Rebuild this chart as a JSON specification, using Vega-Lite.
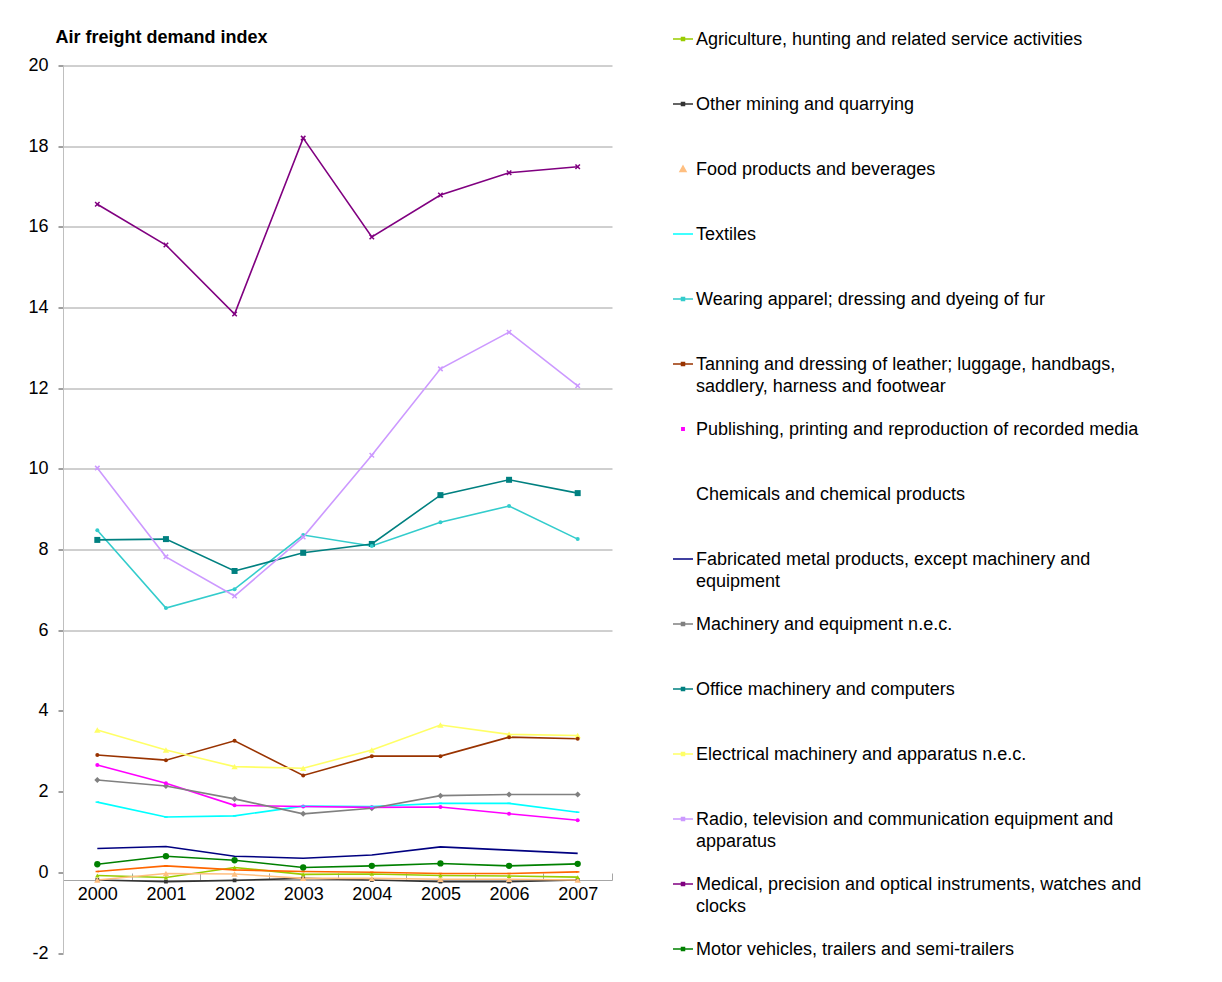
{
  "$schema": "https://vega.github.io/schema/vega-lite/v6.json",
  "width": 549,
  "height": 887.5,
  "autosize": "none",
  "padding": {"left": 63, "top": 65.5, "right": 610, "bottom": 29},
  "background": "white",
  "config": {"font": "Liberation Sans", "view": {"stroke": null}},
  "data": {"values": [
    {"series": "Agriculture, hunting and related service activities", "year": "2000", "value": -0.08},
    {"series": "Agriculture, hunting and related service activities", "year": "2001", "value": -0.13},
    {"series": "Agriculture, hunting and related service activities", "year": "2002", "value": 0.12},
    {"series": "Agriculture, hunting and related service activities", "year": "2003", "value": -0.05},
    {"series": "Agriculture, hunting and related service activities", "year": "2004", "value": -0.04},
    {"series": "Agriculture, hunting and related service activities", "year": "2005", "value": -0.08},
    {"series": "Agriculture, hunting and related service activities", "year": "2006", "value": -0.09},
    {"series": "Agriculture, hunting and related service activities", "year": "2007", "value": -0.12},
    {"series": "Other mining and quarrying", "year": "2000", "value": -0.19},
    {"series": "Other mining and quarrying", "year": "2001", "value": -0.23},
    {"series": "Other mining and quarrying", "year": "2002", "value": -0.2},
    {"series": "Other mining and quarrying", "year": "2003", "value": -0.15},
    {"series": "Other mining and quarrying", "year": "2004", "value": -0.19},
    {"series": "Other mining and quarrying", "year": "2005", "value": -0.23},
    {"series": "Other mining and quarrying", "year": "2006", "value": -0.23},
    {"series": "Other mining and quarrying", "year": "2007", "value": -0.19},
    {"series": "Food products and beverages", "year": "2000", "value": -0.19},
    {"series": "Food products and beverages", "year": "2001", "value": -0.03},
    {"series": "Food products and beverages", "year": "2002", "value": -0.04},
    {"series": "Food products and beverages", "year": "2003", "value": -0.15},
    {"series": "Food products and beverages", "year": "2004", "value": -0.15},
    {"series": "Food products and beverages", "year": "2005", "value": -0.17},
    {"series": "Food products and beverages", "year": "2006", "value": -0.17},
    {"series": "Food products and beverages", "year": "2007", "value": -0.19},
    {"series": "Textiles", "year": "2000", "value": 1.74},
    {"series": "Textiles", "year": "2001", "value": 1.37},
    {"series": "Textiles", "year": "2002", "value": 1.4},
    {"series": "Textiles", "year": "2003", "value": 1.64},
    {"series": "Textiles", "year": "2004", "value": 1.63},
    {"series": "Textiles", "year": "2005", "value": 1.71},
    {"series": "Textiles", "year": "2006", "value": 1.71},
    {"series": "Textiles", "year": "2007", "value": 1.49},
    {"series": "Wearing apparel; dressing and dyeing of fur", "year": "2000", "value": 8.48},
    {"series": "Wearing apparel; dressing and dyeing of fur", "year": "2001", "value": 6.55},
    {"series": "Wearing apparel; dressing and dyeing of fur", "year": "2002", "value": 7.02},
    {"series": "Wearing apparel; dressing and dyeing of fur", "year": "2003", "value": 8.36},
    {"series": "Wearing apparel; dressing and dyeing of fur", "year": "2004", "value": 8.09},
    {"series": "Wearing apparel; dressing and dyeing of fur", "year": "2005", "value": 8.68},
    {"series": "Wearing apparel; dressing and dyeing of fur", "year": "2006", "value": 9.08},
    {"series": "Wearing apparel; dressing and dyeing of fur", "year": "2007", "value": 8.26},
    {"series": "Tanning and dressing of leather; luggage, handbags, saddlery, harness and footwear", "year": "2000", "value": 2.91},
    {"series": "Tanning and dressing of leather; luggage, handbags, saddlery, harness and footwear", "year": "2001", "value": 2.78},
    {"series": "Tanning and dressing of leather; luggage, handbags, saddlery, harness and footwear", "year": "2002", "value": 3.26},
    {"series": "Tanning and dressing of leather; luggage, handbags, saddlery, harness and footwear", "year": "2003", "value": 2.4},
    {"series": "Tanning and dressing of leather; luggage, handbags, saddlery, harness and footwear", "year": "2004", "value": 2.88},
    {"series": "Tanning and dressing of leather; luggage, handbags, saddlery, harness and footwear", "year": "2005", "value": 2.88},
    {"series": "Tanning and dressing of leather; luggage, handbags, saddlery, harness and footwear", "year": "2006", "value": 3.35},
    {"series": "Tanning and dressing of leather; luggage, handbags, saddlery, harness and footwear", "year": "2007", "value": 3.31},
    {"series": "Publishing, printing and reproduction of recorded media", "year": "2000", "value": 2.66},
    {"series": "Publishing, printing and reproduction of recorded media", "year": "2001", "value": 2.21},
    {"series": "Publishing, printing and reproduction of recorded media", "year": "2002", "value": 1.66},
    {"series": "Publishing, printing and reproduction of recorded media", "year": "2003", "value": 1.63},
    {"series": "Publishing, printing and reproduction of recorded media", "year": "2004", "value": 1.61},
    {"series": "Publishing, printing and reproduction of recorded media", "year": "2005", "value": 1.62},
    {"series": "Publishing, printing and reproduction of recorded media", "year": "2006", "value": 1.45},
    {"series": "Publishing, printing and reproduction of recorded media", "year": "2007", "value": 1.29},
    {"series": "Chemicals and chemical products", "year": "2000", "value": 0.02},
    {"series": "Chemicals and chemical products", "year": "2001", "value": 0.16},
    {"series": "Chemicals and chemical products", "year": "2002", "value": 0.06},
    {"series": "Chemicals and chemical products", "year": "2003", "value": 0.02},
    {"series": "Chemicals and chemical products", "year": "2004", "value": 0.0},
    {"series": "Chemicals and chemical products", "year": "2005", "value": -0.03},
    {"series": "Chemicals and chemical products", "year": "2006", "value": -0.03},
    {"series": "Chemicals and chemical products", "year": "2007", "value": 0.01},
    {"series": "Fabricated metal products, except machinery and equipment", "year": "2000", "value": 0.59},
    {"series": "Fabricated metal products, except machinery and equipment", "year": "2001", "value": 0.64},
    {"series": "Fabricated metal products, except machinery and equipment", "year": "2002", "value": 0.4},
    {"series": "Fabricated metal products, except machinery and equipment", "year": "2003", "value": 0.35},
    {"series": "Fabricated metal products, except machinery and equipment", "year": "2004", "value": 0.43},
    {"series": "Fabricated metal products, except machinery and equipment", "year": "2005", "value": 0.63},
    {"series": "Fabricated metal products, except machinery and equipment", "year": "2006", "value": 0.55},
    {"series": "Fabricated metal products, except machinery and equipment", "year": "2007", "value": 0.47},
    {"series": "Machinery and equipment n.e.c.", "year": "2000", "value": 2.29},
    {"series": "Machinery and equipment n.e.c.", "year": "2001", "value": 2.14},
    {"series": "Machinery and equipment n.e.c.", "year": "2002", "value": 1.82},
    {"series": "Machinery and equipment n.e.c.", "year": "2003", "value": 1.45},
    {"series": "Machinery and equipment n.e.c.", "year": "2004", "value": 1.59},
    {"series": "Machinery and equipment n.e.c.", "year": "2005", "value": 1.9},
    {"series": "Machinery and equipment n.e.c.", "year": "2006", "value": 1.93},
    {"series": "Machinery and equipment n.e.c.", "year": "2007", "value": 1.93},
    {"series": "Office machinery and computers", "year": "2000", "value": 8.24},
    {"series": "Office machinery and computers", "year": "2001", "value": 8.26},
    {"series": "Office machinery and computers", "year": "2002", "value": 7.47},
    {"series": "Office machinery and computers", "year": "2003", "value": 7.92},
    {"series": "Office machinery and computers", "year": "2004", "value": 8.14},
    {"series": "Office machinery and computers", "year": "2005", "value": 9.35},
    {"series": "Office machinery and computers", "year": "2006", "value": 9.73},
    {"series": "Office machinery and computers", "year": "2007", "value": 9.4},
    {"series": "Electrical machinery and apparatus n.e.c.", "year": "2000", "value": 3.53},
    {"series": "Electrical machinery and apparatus n.e.c.", "year": "2001", "value": 3.03},
    {"series": "Electrical machinery and apparatus n.e.c.", "year": "2002", "value": 2.62},
    {"series": "Electrical machinery and apparatus n.e.c.", "year": "2003", "value": 2.58},
    {"series": "Electrical machinery and apparatus n.e.c.", "year": "2004", "value": 3.03},
    {"series": "Electrical machinery and apparatus n.e.c.", "year": "2005", "value": 3.65},
    {"series": "Electrical machinery and apparatus n.e.c.", "year": "2006", "value": 3.42},
    {"series": "Electrical machinery and apparatus n.e.c.", "year": "2007", "value": 3.39},
    {"series": "Radio, television and communication equipment and apparatus", "year": "2000", "value": 10.02},
    {"series": "Radio, television and communication equipment and apparatus", "year": "2001", "value": 7.82},
    {"series": "Radio, television and communication equipment and apparatus", "year": "2002", "value": 6.85},
    {"series": "Radio, television and communication equipment and apparatus", "year": "2003", "value": 8.31},
    {"series": "Radio, television and communication equipment and apparatus", "year": "2004", "value": 10.34},
    {"series": "Radio, television and communication equipment and apparatus", "year": "2005", "value": 12.48},
    {"series": "Radio, television and communication equipment and apparatus", "year": "2006", "value": 13.39},
    {"series": "Radio, television and communication equipment and apparatus", "year": "2007", "value": 12.06},
    {"series": "Medical, precision and optical instruments, watches and clocks", "year": "2000", "value": 16.56},
    {"series": "Medical, precision and optical instruments, watches and clocks", "year": "2001", "value": 15.55},
    {"series": "Medical, precision and optical instruments, watches and clocks", "year": "2002", "value": 13.84},
    {"series": "Medical, precision and optical instruments, watches and clocks", "year": "2003", "value": 18.2},
    {"series": "Medical, precision and optical instruments, watches and clocks", "year": "2004", "value": 15.75},
    {"series": "Medical, precision and optical instruments, watches and clocks", "year": "2005", "value": 16.79},
    {"series": "Medical, precision and optical instruments, watches and clocks", "year": "2006", "value": 17.34},
    {"series": "Medical, precision and optical instruments, watches and clocks", "year": "2007", "value": 17.49},
    {"series": "Motor vehicles, trailers and semi-trailers", "year": "2000", "value": 0.2},
    {"series": "Motor vehicles, trailers and semi-trailers", "year": "2001", "value": 0.4},
    {"series": "Motor vehicles, trailers and semi-trailers", "year": "2002", "value": 0.3},
    {"series": "Motor vehicles, trailers and semi-trailers", "year": "2003", "value": 0.12},
    {"series": "Motor vehicles, trailers and semi-trailers", "year": "2004", "value": 0.16},
    {"series": "Motor vehicles, trailers and semi-trailers", "year": "2005", "value": 0.22},
    {"series": "Motor vehicles, trailers and semi-trailers", "year": "2006", "value": 0.16},
    {"series": "Motor vehicles, trailers and semi-trailers", "year": "2007", "value": 0.21}
  ]},
  "encoding": {
    "x": {
      "field": "year", "type": "ordinal", "bandPosition": 0.5,
      "scale": {"type": "band", "paddingInner": 0, "paddingOuter": 0},
      "axis": {"title": null, "orient": "bottom", "offset": -73, "domainColor": "#A6A6A6", "domainWidth": 1, "tickBand": "extent", "tickColor": "#A6A6A6", "tickSize": -7, "labelFontSize": 18, "labelColor": "#000000", "labelAngle": 0, "labelPadding": 12, "grid": false}
    },
    "y": {
      "field": "value", "type": "quantitative",
      "scale": {"domain": [-2, 20], "nice": false, "zero": false},
      "axis": {"title": "Air freight demand index", "titleAngle": 0, "titleAlign": "left", "titleBaseline": "alphabetic", "titleX": -8, "titleY": -23.5, "titleFontSize": 18, "titleFontWeight": "bold", "titleColor": "#000000", "values": [-2, 0, 2, 4, 6, 8, 10, 12, 14, 16, 18, 20], "labelExpr": "'' + datum.value", "labelFontSize": 18, "labelColor": "#000000", "labelPadding": 10, "tickSize": 5, "tickColor": "#404040", "domainColor": "#BFBFBF", "grid": true, "gridColor": "#A0A0A0", "gridOpacity": {"condition": {"test": "datum.value >= 6", "value": 1}, "value": 0}}
    },
    "color": {
      "field": "series", "type": "nominal",
      "scale": {
        "domain": ["Agriculture, hunting and related service activities", "Other mining and quarrying", "Food products and beverages", "Textiles", "Wearing apparel; dressing and dyeing of fur", "Tanning and dressing of leather; luggage, handbags, saddlery, harness and footwear", "Publishing, printing and reproduction of recorded media", "Chemicals and chemical products", "Fabricated metal products, except machinery and equipment", "Machinery and equipment n.e.c.", "Office machinery and computers", "Electrical machinery and apparatus n.e.c.", "Radio, television and communication equipment and apparatus", "Medical, precision and optical instruments, watches and clocks", "Motor vehicles, trailers and semi-trailers"],
        "range": ["#99CC00", "#333333", "#FFBF80", "#00FFFF", "#33CCCC", "#993300", "#FF00FF", "#FF6600", "#000080", "#808080", "#008080", "#FFFF66", "#CC99FF", "#800080", "#008000"]
      },
      "legend": {
        "title": null, "orient": "none", "legendX": 609, "legendY": -37.5, "direction": "vertical", "columns": 1, "gridAlign": "all", "rowPadding": 22, "padding": 0,
        "labelFontSize": 18, "labelFont": "Liberation Sans", "labelColor": "#000000", "labelLimit": 0, "labelOffset": 2, "labelBaseline": "alphabetic",
        "symbolType": "M-1,0H1", "symbolSize": 400, "symbolStrokeWidth": 1.5,
        "labelExpr": "datum.label == 'Tanning and dressing of leather; luggage, handbags, saddlery, harness and footwear' ? ['Tanning and dressing of leather; luggage, handbags,', 'saddlery, harness and footwear'] : datum.label == 'Fabricated metal products, except machinery and equipment' ? ['Fabricated metal products, except machinery and', 'equipment'] : datum.label == 'Radio, television and communication equipment and apparatus' ? ['Radio, television and communication equipment and', 'apparatus'] : datum.label == 'Medical, precision and optical instruments, watches and clocks' ? ['Medical, precision and optical instruments, watches and', 'clocks'] : datum.label",
        "encode": {
          "labels": {"update": {"dy": {"value": 6}, "lineHeight": {"value": 22}}},
          "symbols": {"update": {
            "shape": {"signal": "datum.value == 'Food products and beverages' ? 'M0,-0.3L0.3,0.25H-0.3Z' : datum.value == 'Publishing, printing and reproduction of recorded media' ? 'M-0.12,-0.12H0.12V0.12H-0.12Z' : (datum.value == 'Textiles' || datum.value == 'Fabricated metal products, except machinery and equipment') ? 'M-1,0H1' : 'M-1,0H1M-0.15,-0.15H0.15V0.15H-0.15Z'"},
            "size": {"value": 400},
            "strokeWidth": {"value": 1.5},
            "opacity": {"signal": "datum.value == 'Chemicals and chemical products' ? 0 : 1"},
            "stroke": {"scale": "color", "field": "value"},
            "fill": {"scale": "color", "field": "value"}
          }}
        }
      }
    }
  },
  "layer": [
    {"mark": {"type": "line", "strokeWidth": 1.6}},
    {
      "transform": [{"filter": {"field": "series", "oneOf": ["Other mining and quarrying"]}}],
      "mark": {"type": "point", "shape": "square", "size": 14, "filled": true, "opacity": 1}
    },
    {
      "transform": [{"filter": {"field": "series", "oneOf": ["Office machinery and computers"]}}],
      "mark": {"type": "point", "shape": "square", "size": 36, "filled": true, "opacity": 1}
    },
    {
      "transform": [{"filter": {"field": "series", "oneOf": ["Machinery and equipment n.e.c."]}}],
      "mark": {"type": "point", "shape": "diamond", "size": 36, "filled": true, "opacity": 1}
    },
    {
      "transform": [{"filter": {"field": "series", "oneOf": ["Food products and beverages", "Electrical machinery and apparatus n.e.c."]}}],
      "mark": {"type": "point", "shape": "triangle-up", "size": 40, "filled": true, "opacity": 1}
    },
    {
      "transform": [{"filter": {"field": "series", "oneOf": ["Agriculture, hunting and related service activities"]}}],
      "mark": {"type": "point", "shape": "triangle-up", "size": 20, "filled": true, "opacity": 1}
    },
    {
      "transform": [{"filter": {"field": "series", "oneOf": ["Wearing apparel; dressing and dyeing of fur", "Tanning and dressing of leather; luggage, handbags, saddlery, harness and footwear", "Publishing, printing and reproduction of recorded media"]}}],
      "mark": {"type": "point", "shape": "circle", "size": 16, "filled": true, "opacity": 1}
    },
    {
      "transform": [{"filter": {"field": "series", "oneOf": ["Motor vehicles, trailers and semi-trailers"]}}],
      "mark": {"type": "point", "shape": "circle", "size": 40, "filled": true, "opacity": 1}
    },
    {
      "transform": [{"filter": {"field": "series", "oneOf": ["Radio, television and communication equipment and apparatus", "Medical, precision and optical instruments, watches and clocks"]}}],
      "mark": {"type": "point", "shape": "M-1,-1L1,1M-1,1L1,-1", "size": 20, "filled": false, "strokeWidth": 1.5, "opacity": 1}
    },
    {
      "transform": [{"filter": {"field": "series", "oneOf": ["Textiles", "Chemicals and chemical products"]}}],
      "mark": {"type": "point", "shape": "M-1,0H1", "size": 12, "filled": false, "strokeWidth": 1.5, "opacity": 1}
    }
  ]
}
